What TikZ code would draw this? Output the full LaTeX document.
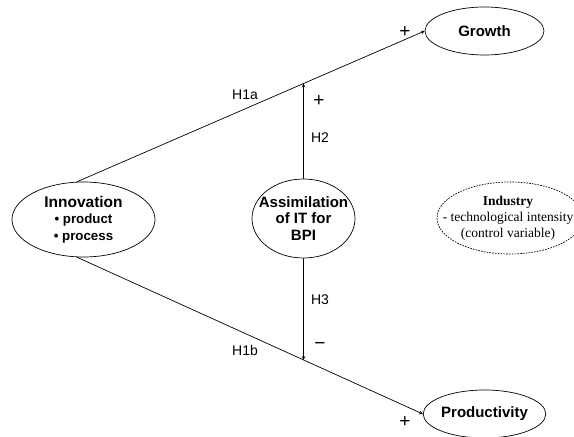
\documentclass[tikz,border=0pt]{standalone}
\usepackage{fontspec}
\setmainfont{Liberation Sans}
\newfontfamily\timesfont{Liberation Serif}
\usetikzlibrary{shapes,arrows}
\tikzstyle{construct} = [ellipse, draw=black, line width=0.7pt, inner sep=0pt, align=center, font=\bfseries\fontsize{15}{16.3}\selectfont]
\tikzstyle{control} = [ellipse, draw=black, line width=0.7pt, dash pattern=on 1.6pt off 1.2pt, inner sep=0pt]
\tikzstyle{arrow} = [line width=0.7pt,->,>=stealth]
\tikzstyle{hyp} = [font=\fontsize{14}{16}\selectfont]
\tikzstyle{sign} = [font=\fontsize{19}{20}\selectfont]

\begin{document}
\begin{tikzpicture}[x=1pt,y=1pt]
        \useasboundingbox (0,0) rectangle (574,437);

        \node (innov) [construct, minimum width=143pt, minimum height=75pt] at (83.5,217.5) {{\fontsize{15.5}{16}\selectfont Innovation}\\ {\fontsize{13.3}{16}\selectfont • product}\\ {\fontsize{13.3}{16}\selectfont • process}};
        \node (growth) [construct, minimum width=119pt, minimum height=48pt] at (484.5,406) {Growth};
        \node (prod) [construct, minimum width=119pt, minimum height=48pt] at (484.5,23) {Productivity};

        \node (assim) [construct, minimum width=103pt, minimum height=79pt] at (303.5,218.5) {};
        \node (assimtext) [align=center, font=\bfseries\fontsize{15}{16.3}\selectfont] at (assim) {Assimilation\\ of IT for\\ BPI};

        \node (industry) [control, minimum width=146pt, minimum height=72pt] at (510,219) {};
        \node (industrytext) [align=center, font=\timesfont\fontsize{13.5}{15.8}\selectfont] at ([xshift=-2pt]industry.center) {\textbf{Industry}\\ - technological intensity\\ (control variable)};

        \draw[arrow] (innov.100) -- (growth.west);
        \draw[arrow] (innov.260) -- (prod.west);

        \draw[arrow] (assim.north) -- (intersection of innov.100--growth.west and assim.north--assim.south);
        \draw[arrow] (assim.south) -- (intersection of innov.260--prod.west and assim.north--assim.south);

        \node (h1a) [hyp] at (245,342) {H1a};
        \node (h2) [hyp] at (320,299) {H2};
        \node (h3) [hyp] at (320,137) {H3};
        \node (h1b) [hyp] at (245,87) {H1b};

        \node (plusgrowth) [sign] at (405,405) {+};
        \node (plush2) [sign] at (319,336) {+};
        \node (minush3) [sign] at (320,91) {−};
        \node (plusprod) [sign] at (405,15) {+};

    \end{tikzpicture}
\end{document}
